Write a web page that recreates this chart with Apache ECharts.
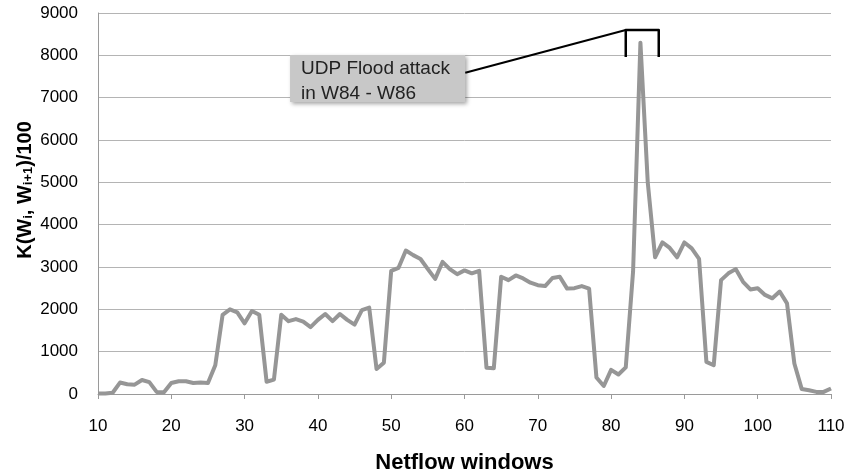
<!DOCTYPE html>
<html>
<head>
<meta charset="utf-8">
<script src="https://cdn.jsdelivr.net/npm/echarts@6/dist/echarts.min.js"></script>
<style>
html,body{margin:0;padding:0;background:#fff;}
#c{width:849px;height:475px;}
</style>
</head>
<body>
<div id="c"></div>
<script>
var windows = [10,11,12,13,14,15,16,17,18,19,20,21,22,23,24,25,26,27,28,29,30,31,32,33,34,35,36,37,38,39,40,41,42,43,44,45,46,47,48,49,50,51,52,53,54,55,56,57,58,59,60,61,62,63,64,65,66,67,68,69,70,71,72,73,74,75,76,77,78,79,80,81,82,83,84,85,86,87,88,89,90,91,92,93,94,95,96,97,98,99,100,101,102,103,104,105,106,107,108,109,110];
var kValues = [10,10,30,270,230,220,330,280,50,40,
  260,300,300,260,270,260,680,1870,2000,1930,
  1670,1960,1870,290,340,1870,1720,1770,1710,1580,
  1750,1890,1720,1890,1750,1640,1980,2040,590,740,
  2910,2980,3390,3280,3190,2950,2720,3120,2950,2830,
  2920,2850,2910,620,610,2770,2690,2800,2730,2630,
  2570,2550,2740,2770,2490,2500,2550,2490,390,190,
  570,460,630,2900,8300,5000,3230,3580,3450,3230,
  3580,3440,3190,760,680,2690,2850,2950,2650,2470,
  2500,2340,2260,2420,2140,720,120,90,50,50,130];
var xTicks = [10,20,30,40,50,60,70,80,90,100,110];
var yTicks = [0,1000,2000,3000,4000,5000,6000,7000,8000,9000];
var annotationLines = ['UDP Flood attack', 'in W84 - W86'];
var attackRange = [82, 86.5];

var chart = echarts.init(document.getElementById('c'), null, {renderer: 'canvas'});
var pairs = windows.map(function (w, i) { return [w, kValues[i]]; });
var font = 'Liberation Sans';

chart.setOption({
  animation: false,
  backgroundColor: '#ffffff',
  grid: {left: 98, right: 18, top: 13, bottom: 81, containLabel: false, outerBoundsMode: 'none'},
  xAxis: {
    type: 'value',
    min: xTicks[0], max: xTicks[xTicks.length - 1], interval: 10,
    name: 'Netflow windows',
    nameLocation: 'middle', nameGap: 58,
    nameTextStyle: {fontFamily: font, fontSize: 22, fontWeight: 'bold', color: '#000'},
    axisLine: {lineStyle: {color: '#9a9a9a', width: 1}},
    axisTick: {show: true, length: 5, lineStyle: {color: '#9a9a9a'}},
    axisLabel: {fontFamily: font, fontSize: 17, color: '#000', margin: 24},
    splitLine: {show: false}
  },
  yAxis: {
    type: 'value',
    min: yTicks[0], max: yTicks[yTicks.length - 1], interval: 1000,
    axisLine: {show: true, lineStyle: {color: '#9a9a9a', width: 1}},
    axisTick: {show: false},
    axisLabel: {fontFamily: font, fontSize: 17, color: '#000', margin: 20,
      formatter: function (v) { return String(v); }},
    splitLine: {lineStyle: {color: '#b4b4b4', width: 1}}
  },
  series: [{
    type: 'line',
    data: pairs,
    showSymbol: false,
    symbol: 'none',
    lineStyle: {color: '#969696', width: 4, join: 'round'},
    z: 3
  }]
});

function drawAnnotation() {
  var boxTL = chart.convertToPixel({gridIndex: 0}, [36.2, 8010]);
  var boxBR = chart.convertToPixel({gridIndex: 0}, [60.1, 6900]);
  var bl = chart.convertToPixel({gridIndex: 0}, [attackRange[0], 8600]);
  var br = chart.convertToPixel({gridIndex: 0}, [attackRange[1], 8600]);
  var bb = chart.convertToPixel({gridIndex: 0}, [attackRange[0], 7960]);
  var leaderStart = chart.convertToPixel({gridIndex: 0}, [60.1, 7590]);
  var w = boxBR[0] - boxTL[0], h = boxBR[1] - boxTL[1];
  chart.setOption({
    graphic: [
      {
        type: 'rect', z: 10,
        shape: {x: boxTL[0], y: boxTL[1], width: w, height: h},
        style: {fill: '#c8c8c8', shadowBlur: 4, shadowOffsetX: 2, shadowOffsetY: 2, shadowColor: 'rgba(0,0,0,0.35)'}
      },
      {
        type: 'text', z: 11,
        x: boxTL[0] + 11, y: boxTL[1] + 1,
        style: {text: annotationLines.join('\n'), font: '19px "Liberation Sans"', fill: '#222', lineHeight: 25}
      },
      {
        type: 'polyline', z: 11,
        shape: {points: [leaderStart, [bl[0], bl[1]]]},
        style: {stroke: '#000', lineWidth: 2, fill: null}
      },
      {
        type: 'polyline', z: 11,
        shape: {points: [[bl[0], bb[1]], [bl[0], bl[1]], [br[0], br[1]], [br[0], bb[1]]]},
        style: {stroke: '#000', lineWidth: 2.5, fill: null, lineJoin: 'round'}
      },
      {
        type: 'text', z: 11,
        x: 22, y: 190, rotation: Math.PI / 2,
        style: {
          text: '{b|K(W}{s|i}{b|, W}{s|i+1}{b|)/100}',
          align: 'center', verticalAlign: 'middle',
          rich: {
            b: {fontFamily: font, fontSize: 20, fontWeight: 'bold', fill: '#000', lineHeight: 26, verticalAlign: 'bottom'},
            s: {fontFamily: font, fontSize: 13, fontWeight: 'bold', fill: '#000', lineHeight: 8, padding: [5, 0, 0, 0], verticalAlign: 'bottom'}
          }
        }
      }
    ]
  });
}
drawAnnotation();
</script>
</body>
</html>
